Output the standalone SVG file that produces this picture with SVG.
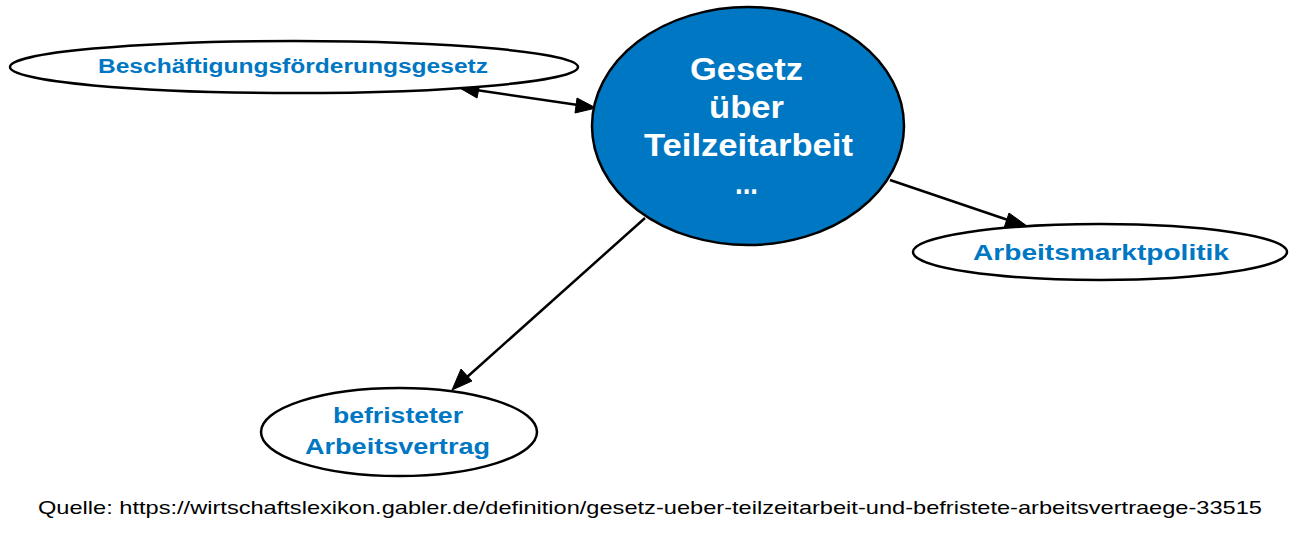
<svg xmlns="http://www.w3.org/2000/svg" width="1300" height="547" viewBox="0 0 1300 547">
<defs>
<style>
.n{fill:#fff;stroke:#000;stroke-width:2.5}
.m{fill:#0077c3;stroke:#000;stroke-width:2.5}
.t{font-family:"Liberation Sans",Arial,sans-serif;font-weight:bold;fill:#0077c3}
.w{font-family:"Liberation Sans",Arial,sans-serif;font-weight:bold;fill:#fff;font-size:31px}
.e{stroke:#000;stroke-width:2.5;fill:none}
.h{fill:#000;stroke:#000;stroke-width:1}
</style>
</defs>
<rect width="1300" height="547" fill="#fff"/>
<g id="edges">
<line class="e" x1="476" y1="90" x2="578" y2="105"/>
<path class="h" d="M458,87 L480,83 L477,98 z"/>
<path class="h" d="M596,108 L575,113 L577,98 z"/>
<line class="e" x1="890" y1="180" x2="1008" y2="220"/>
<path class="h" d="M1027,226 L1004,228 L1009,213 z"/>
<line class="e" x1="645" y1="218" x2="466" y2="378"/>
<path class="h" d="M452,390 L461,369 L472,381 z"/>
</g>
<g id="n1">
<ellipse class="n" cx="294" cy="67" rx="284" ry="26"/>
<text class="t" x="98" y="73" font-size="20" textLength="390" lengthAdjust="spacingAndGlyphs">Beschäftigungsförderungsgesetz</text>
</g>
<g id="n0">
<ellipse class="m" cx="748" cy="126" rx="156" ry="119"/>
<text class="w" x="690" y="80" textLength="113" lengthAdjust="spacingAndGlyphs">Gesetz</text>
<text class="w" x="709" y="118" textLength="75" lengthAdjust="spacingAndGlyphs">über</text>
<text class="w" x="644" y="156" textLength="209" lengthAdjust="spacingAndGlyphs">Teilzeitarbeit</text>
<text class="w" x="735" y="194" textLength="23" lengthAdjust="spacingAndGlyphs">...</text>
</g>
<g id="n2">
<ellipse class="n" cx="1100" cy="252" rx="187" ry="28"/>
<text class="t" x="973" y="260" font-size="22" textLength="256" lengthAdjust="spacingAndGlyphs">Arbeitsmarktpolitik</text>
</g>
<g id="n3">
<ellipse class="n" cx="399" cy="432" rx="138" ry="44"/>
<text class="t" x="333" y="423" font-size="22" textLength="130" lengthAdjust="spacingAndGlyphs">befristeter</text>
<text class="t" x="305" y="454" font-size="22" textLength="185" lengthAdjust="spacingAndGlyphs">Arbeitsvertrag</text>
</g>
<text x="38" y="514" font-family="Liberation Sans,Arial,sans-serif" font-size="19" fill="#000" textLength="1224" lengthAdjust="spacingAndGlyphs">Quelle: https://wirtschaftslexikon.gabler.de/definition/gesetz-ueber-teilzeitarbeit-und-befristete-arbeitsvertraege-33515</text>
</svg>
